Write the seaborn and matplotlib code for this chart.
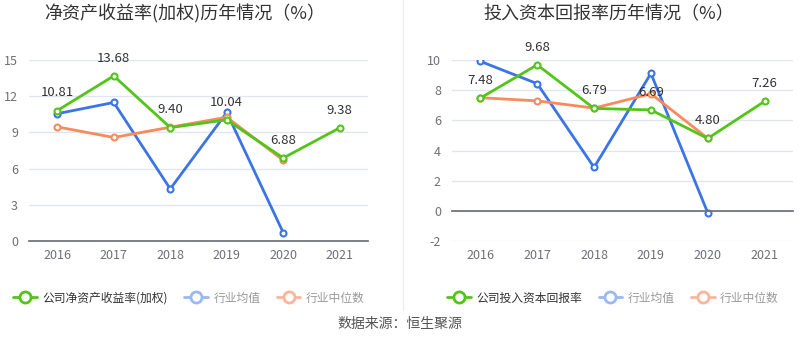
import matplotlib
matplotlib.use("Agg")
import matplotlib.pyplot as plt
from matplotlib.lines import Line2D
import pandas as pd
import seaborn as sns

years = ["2016", "2017", "2018", "2019", "2020", "2021"]

# 净资产收益率(加权)
roe_company = [10.81, 13.68, 9.40, 10.04, 6.88, 9.38]
roe_avg = [10.55, 11.48, 4.32, 10.65, 0.69, None]
roe_median = [9.46, 8.58, 9.43, 10.26, 6.69, None]

# 投入资本回报率
roic_company = [7.48, 9.68, 6.79, 6.69, 4.80, 7.26]
roic_avg = [9.91, 8.43, 2.88, 9.11, -0.13, None]
roic_median = [7.50, 7.29, 6.81, 7.76, 4.81, None]

GREEN = "#52c41a"
BLUE = "#3b74e6"
ORANGE = "#f98a5c"
LIGHT_BLUE = "#9ab8f4"
LIGHT_ORANGE = "#fbb59b"
W, H = 800, 358

sns.set_theme(style="white")
plt.rcParams["font.family"] = ["Noto Sans CJK SC", "DejaVu Sans"]


def long_frame(company, avg, median):
    rows = []
    for name, vals in (("company", company), ("avg", avg), ("median", median)):
        for i, v in enumerate(vals):
            rows.append({"x": i, "value": v, "series": name})
    return pd.DataFrame(rows).dropna()


def draw_panel(ax, frame, company, yticks, ylim):
    sns.lineplot(data=frame, x="x", y="value", hue="series",
                 hue_order=["avg", "median", "company"],
                 palette={"company": GREEN, "avg": BLUE, "median": ORANGE},
                 marker="o", markersize=4.3, markerfacecolor="white",
                 markeredgewidth=1.5, linewidth=2, legend=False, ax=ax)
    # seaborn paints marker edges white; give them the line colour instead
    for line in ax.lines:
        line.set_markeredgecolor(line.get_color())
    for i, v in enumerate(company):
        ax.annotate(f"{v:.2f}", (i, v), xytext=(0, 8), textcoords="offset points",
                    ha="center", va="bottom", fontsize=9.5, color="#333333")
    ax.set_xlim(-0.5, 5.5)
    ax.set_ylim(*ylim)
    ax.set_yticks(yticks)
    ax.set_yticklabels([str(t) for t in yticks])
    ax.grid(axis="y", color="#e0e6f1", linewidth=1)
    ax.set_axisbelow(True)
    for s in ("top", "right", "left"):
        ax.spines[s].set_visible(False)
    ax.spines["bottom"].set_position(("data", 0))
    ax.spines["bottom"].set_color("#6e7079")
    ax.set_xticks(range(len(years)))
    ax.tick_params(axis="x", length=4, color="#6e7079", labelbottom=False)
    ax.tick_params(axis="y", length=0, labelsize=9, labelcolor="#6e7079", pad=8)
    ax.set_xlabel("")
    ax.set_ylabel("")
    sec = ax.secondary_xaxis("bottom")
    sec.set_xticks(range(len(years)))
    sec.set_xticklabels(years)
    sec.tick_params(length=0, labelsize=9, labelcolor="#6e7079", pad=6)
    sec.spines["bottom"].set_visible(False)


fig = plt.figure(figsize=(W / 100, H / 100), dpi=100)
ax1 = fig.add_axes([29 / W, 1 - 241 / H, 339 / W, 181 / H])
ax2 = fig.add_axes([452 / W, 1 - 241 / H, 341 / W, 181 / H])

draw_panel(ax1, long_frame(roe_company, roe_avg, roe_median), roe_company,
           [0, 3, 6, 9, 12, 15], (0, 15))
draw_panel(ax2, long_frame(roic_company, roic_avg, roic_median), roic_company,
           [-2, 0, 2, 4, 6, 8, 10], (-2, 10))

fig.text(185 / W, 1 - 14 / H, "净资产收益率(加权)历年情况（%）", ha="center", va="center",
         fontsize=13, color="#333333")
fig.text(609 / W, 1 - 14 / H, "投入资本回报率历年情况（%）", ha="center", va="center",
         fontsize=13, color="#333333")

# divider between the two panels
fig.add_artist(Line2D([403 / W, 403 / W], [1 - 310 / H, 1], color="#eeeeee", linewidth=1))


def legend_handle(color):
    return Line2D([], [], color=color, linewidth=2, marker="o", markersize=8,
                  markerfacecolor="white", markeredgewidth=2)


def add_legend(labels, x_center):
    handles = [legend_handle(GREEN), legend_handle(LIGHT_BLUE), legend_handle(LIGHT_ORANGE)]
    leg = fig.legend(handles, labels, loc="center", bbox_to_anchor=(x_center / W, 1 - 298 / H),
                     ncol=3, frameon=False, fontsize=8.5, handlelength=2.0, handletextpad=0.45,
                     columnspacing=1.4)
    for t, c in zip(leg.get_texts(), ["#333333", "#999999", "#999999"]):
        t.set_color(c)


add_legend(["公司净资产收益率(加权)", "行业均值", "行业中位数"], 189)
add_legend(["公司投入资本回报率", "行业均值", "行业中位数"], 613)

fig.text(0.5, 1 - 324 / H, "数据来源：恒生聚源", ha="center", va="center",
         fontsize=10, color="#555555")

fig.savefig("out.png", dpi=100)
